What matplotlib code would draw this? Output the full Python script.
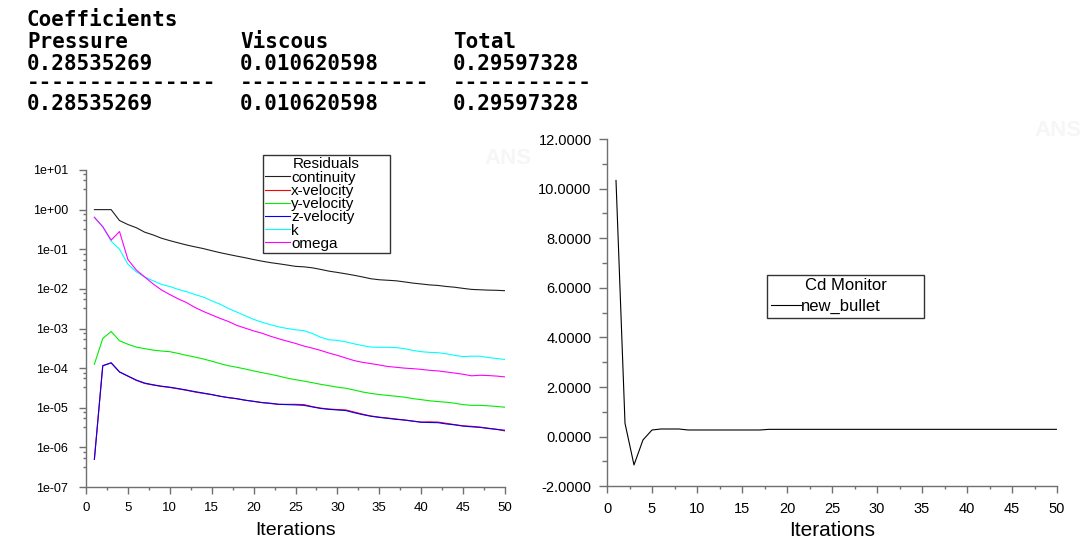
import numpy as np
import matplotlib
matplotlib.use("Agg")
import matplotlib.pyplot as plt
from matplotlib.ticker import MultipleLocator, LogLocator, FuncFormatter, NullFormatter

plt.rcParams['font.family'] = ['Liberation Sans', 'DejaVu Sans']

iterations = list(range(1, 51))

continuity = [1.0, 1.0, 1.0, 0.53, 0.42, 0.35, 0.27, 0.23, 0.19, 0.165,
              0.145, 0.128, 0.115, 0.104, 0.092, 0.082, 0.074, 0.067, 0.061, 0.055,
              0.050, 0.046, 0.043, 0.040, 0.037, 0.036, 0.034, 0.031, 0.028, 0.026,
              0.024, 0.022, 0.020, 0.018, 0.017, 0.0165, 0.016, 0.015, 0.014, 0.0133,
              0.0126, 0.0122, 0.0115, 0.011, 0.0103, 0.0097, 0.0095, 0.0093, 0.0092, 0.009]
x_velocity = [5e-7, 1.15e-4, 1.36e-4, 8e-5, 6.3e-5, 4.9e-5, 4.1e-5, 3.75e-5, 3.45e-5, 3.25e-5,
              3.0e-5, 2.75e-5, 2.5e-5, 2.3e-5, 2.15e-5, 1.95e-5, 1.8e-5, 1.68e-5, 1.55e-5, 1.45e-5,
              1.35e-5, 1.28e-5, 1.22e-5, 1.22e-5, 1.22e-5, 1.2e-5, 1.07e-5, 9.8e-6, 9.3e-6, 9.0e-6,
              8.8e-6, 7.8e-6, 6.9e-6, 6.2e-6, 5.8e-6, 5.5e-6, 5.2e-6, 4.9e-6, 4.6e-6, 4.35e-6,
              4.4e-6, 4.35e-6, 4.05e-6, 3.75e-6, 3.5e-6, 3.4e-6, 3.25e-6, 3.05e-6, 2.85e-6, 2.6e-6]
y_velocity = [1.25e-4, 5.6e-4, 8.4e-4, 4.9e-4, 4.0e-4, 3.4e-4, 3.1e-4, 2.85e-4, 2.7e-4, 2.6e-4,
              2.35e-4, 2.1e-4, 1.9e-4, 1.7e-4, 1.5e-4, 1.3e-4, 1.15e-4, 1.05e-4, 9.5e-5, 8.5e-5,
              7.7e-5, 7.0e-5, 6.3e-5, 5.6e-5, 5.1e-5, 4.7e-5, 4.3e-5, 3.9e-5, 3.6e-5, 3.3e-5,
              3.1e-5, 2.8e-5, 2.5e-5, 2.3e-5, 2.15e-5, 2.05e-5, 1.95e-5, 1.85e-5, 1.7e-5, 1.6e-5,
              1.5e-5, 1.43e-5, 1.38e-5, 1.3e-5, 1.2e-5, 1.15e-5, 1.15e-5, 1.12e-5, 1.08e-5, 1.03e-5]
z_velocity = [5e-7, 1.15e-4, 1.36e-4, 8e-5, 6.3e-5, 5.0e-5, 4.2e-5, 3.8e-5, 3.5e-5, 3.3e-5,
              3.05e-5, 2.8e-5, 2.55e-5, 2.35e-5, 2.15e-5, 1.95e-5, 1.8e-5, 1.7e-5, 1.55e-5, 1.45e-5,
              1.35e-5, 1.3e-5, 1.22e-5, 1.2e-5, 1.18e-5, 1.15e-5, 1.05e-5, 9.6e-6, 9.1e-6, 8.8e-6,
              8.5e-6, 7.5e-6, 6.7e-6, 6.1e-6, 5.7e-6, 5.4e-6, 5.1e-6, 4.9e-6, 4.6e-6, 4.3e-6,
              4.25e-6, 4.2e-6, 3.9e-6, 3.7e-6, 3.45e-6, 3.3e-6, 3.2e-6, 3.0e-6, 2.85e-6, 2.7e-6]
k = [0.64, 0.37, 0.16, 0.10, 0.042, 0.027, 0.020, 0.016, 0.013, 0.0115,
     0.0097, 0.0085, 0.0072, 0.0062, 0.0050, 0.0041, 0.0032, 0.0026, 0.0021, 0.0017,
     0.00144, 0.00125, 0.0011, 0.0010, 0.00093, 0.00088, 0.00075, 0.0006, 0.00052, 0.0005,
     0.00046, 0.00041, 0.00037, 0.00034, 0.000335, 0.000335, 0.00033, 0.00031, 0.00028, 0.00026,
     0.00025, 0.000245, 0.00023, 0.00021, 0.000195, 0.0002, 0.0002, 0.000185, 0.000175, 0.000165]
omega = [0.64, 0.37, 0.17, 0.28, 0.055, 0.03, 0.02, 0.0134, 0.0094, 0.0072,
         0.0056, 0.0045, 0.0034, 0.0027, 0.0022, 0.0018, 0.0015, 0.0012, 0.00102, 0.00087,
         0.00076, 0.00064, 0.00055, 0.00048, 0.00042, 0.00036, 0.00032, 0.00028, 0.00024, 0.00021,
         0.00018, 0.000155, 0.00014, 0.00013, 0.00012, 0.00011, 0.000105, 0.0001, 9.7e-5, 9.3e-5,
         8.8e-5, 8.5e-5, 8.0e-5, 7.5e-5, 7.0e-5, 6.4e-5, 6.6e-5, 6.5e-5, 6.3e-5, 6.0e-5]

cd = [10.33, 0.54, -1.14, -0.13, 0.27, 0.31, 0.31, 0.31, 0.27, 0.27,
      0.27, 0.27, 0.27, 0.27, 0.27, 0.27, 0.27, 0.296, 0.296, 0.296,
      0.296, 0.296, 0.296, 0.296, 0.296, 0.296, 0.296, 0.296, 0.296, 0.296,
      0.296, 0.296, 0.296, 0.296, 0.296, 0.296, 0.296, 0.296, 0.296, 0.296,
      0.296, 0.296, 0.296, 0.296, 0.296, 0.296, 0.296, 0.296, 0.296, 0.296]

coef_headers = ['Pressure', 'Viscous', 'Total']
coef_values = ['0.28535269', '0.010620598', '0.29597328']
coef_dashes = ['---------------', '---------------', '-----------']

W, H = 1087, 545
fig = plt.figure(figsize=(W / 100, H / 100), dpi=100)

# header text block
mono = dict(family='DejaVu Sans Mono', weight='bold', fontsize=15, color='black', va='baseline')
col_x = [27, 240, 453]
fig.text(27 / W, 1 - 26 / H, 'Coefficients', **mono)
for i in range(3):
    fig.text(col_x[i] / W, 1 - 48 / H, coef_headers[i], **mono)
    fig.text(col_x[i] / W, 1 - 70 / H, coef_values[i], **mono)
    fig.text(col_x[i] / W, 1 - 89 / H, coef_dashes[i], **mono)
    fig.text(col_x[i] / W, 1 - 110 / H, coef_values[i], **mono)

# faint watermarks
fig.text(1034 / W, 1 - 136 / H, 'ANS', fontsize=16, color='#f6f6f6', weight='bold')
fig.text(484 / W, 1 - 164 / H, 'ANS', fontsize=16, color='#f6f6f6', weight='bold')

spine_col = '#707070'


def style(ax, size):
    for s in ['top', 'right']:
        ax.spines[s].set_visible(False)
    for s in ['left', 'bottom']:
        ax.spines[s].set_color(spine_col)
        ax.spines[s].set_linewidth(1.0)
    ax.tick_params(which='both', direction='out', colors=spine_col, labelcolor='black',
                   labelsize=size)
    ax.tick_params(which='major', length=5, width=1)
    ax.tick_params(which='minor', length=2.5, width=1)
    ax.set_xlim(0, 50)
    ax.xaxis.set_major_locator(MultipleLocator(5))
    ax.xaxis.set_minor_locator(MultipleLocator(2.5))
    ax.tick_params(axis='x', pad=6)
    ax.patch.set_alpha(0)


# residuals
ax1 = fig.add_axes([86 / W, 1 - 487 / H, 419 / W, 317 / H])
ax1.plot(iterations, continuity, color='#202020', lw=0.8, label='continuity')
ax1.plot(iterations, x_velocity, color='#ff0000', lw=0.8, label='x-velocity')
ax1.plot(iterations, y_velocity, color='#00ee00', lw=0.8, label='y-velocity')
ax1.plot(iterations, z_velocity, color='#0000ff', lw=0.8, label='z-velocity')
ax1.plot(iterations, k, color='#00ffff', lw=0.8, label='k')
ax1.plot(iterations, omega, color='#ff00ff', lw=0.8, label='omega')
ax1.set_yscale('log')
ax1.set_ylim(1e-7, 1e1)
ax1.yaxis.set_major_locator(LogLocator(base=10, numticks=20))
ax1.yaxis.set_minor_locator(LogLocator(base=10, subs=(3.25, 5.5, 7.75), numticks=20))
ax1.yaxis.set_major_formatter(FuncFormatter(lambda v, p: f'{v:.0e}'))
ax1.yaxis.set_minor_formatter(NullFormatter())
style(ax1, 9.5)
ax1.tick_params(axis='y', labelsize=9, pad=8)
ax1.set_xlabel('Iterations', fontsize=14)
ax1.xaxis.set_label_coords(0.5, -0.11)
leg1 = ax1.legend(title='Residuals', loc='upper left',
                  bbox_to_anchor=(0.4224, 0.0, 127 / 419, 1.047), mode='expand',
                  fontsize=11, title_fontsize=11, frameon=True, fancybox=False,
                  edgecolor='black', borderpad=0.15, borderaxespad=0, labelspacing=-0.05,
                  handlelength=1.65, handletextpad=0.05)
leg1.get_frame().set_linewidth(1.0)

# Cd monitor
ax2 = fig.add_axes([607 / W, 1 - 486.3 / H, 450 / W, 347.3 / H])
ax2.plot(iterations, cd, color='black', lw=0.8, label='new_bullet')
ax2.set_ylim(-2, 12)
ax2.yaxis.set_major_locator(MultipleLocator(2))
ax2.yaxis.set_minor_locator(MultipleLocator(1))
ax2.yaxis.set_major_formatter(FuncFormatter(lambda v, p: f'{v:.4f}'))
style(ax2, 10.5)
ax2.tick_params(axis='y', which='major', length=6, pad=5)
ax2.tick_params(axis='y', which='minor', length=3.5)
ax2.set_xlabel('Iterations', fontsize=15)
ax2.xaxis.set_label_coords(0.5, -0.1)
leg2 = ax2.legend(title='Cd Monitor', loc='upper left',
                  bbox_to_anchor=(0.356, 0.0, 157 / 450, 0.608), mode='expand',
                  fontsize=12, title_fontsize=12, frameon=True, fancybox=False,
                  edgecolor='black', borderpad=0.2, borderaxespad=0, labelspacing=0.35,
                  handlelength=1.8, handletextpad=0.05)
leg2.get_frame().set_linewidth(1.0)

fig.savefig('out.png', dpi=100)
